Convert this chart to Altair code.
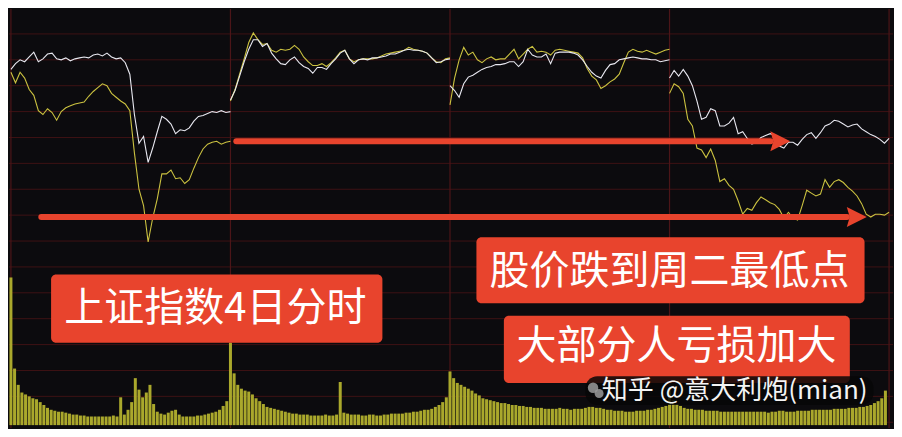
import altair as alt
import pandas as pd

# ---- data (levels: arbitrary index units, 5-minute samples, 4 sessions) ----
white_d1 = [374,380,384,382,387,392,382,385,390,391, 385,384,386,383,385,386,387,386,389,390,
            388,391,387,385,386,381,369,327,297,304, 277,292,309,325,322,317,307,311,310,313,
            320,325,326,328,330,329,331,329,330]
yellow_d1 = [371,360,371,365,353,347,331,327,333,329, 321,330,334,336,338,339,340,346,351,355,
             359,357,349,345,341,338,331,287,249,232, 194,219,239,265,265,269,260,261,255,259,
             271,282,291,296,298,299,296,298,299]
white_d2 = [342,352,367,382,395,405,405,398,401,391, 385,380,379,384,387,381,377,375,370,376,
            376,374,380,385,391,394,385,380,384,385, 384,386,386,387,388,390,390,392,394,395,
            394,394,393,391,386,381,382,384,385]
yellow_d2 = [341,353,369,385,402,412,405,400,401,394, 392,395,394,395,399,395,387,382,378,378,
             380,377,381,386,392,394,385,382,384,385, 385,385,386,388,390,391,392,393,394,397,
             395,394,393,391,386,382,381,385,386]
white_d3 = [357,352,345,359,366,368,371,374,376,377, 379,379,380,382,382,377,382,395,389,387,
            387,390,380,391,392,392,392,391,389,384, 377,371,367,365,373,379,380,384,385,386,
            387,386,385,385,384,384,382,383,384]
yellow_d3 = [337,365,384,397,389,392,384,381,385,387, 384,385,385,390,395,385,390,395,398,392,
             393,392,389,394,395,394,393,392,391,386, 375,367,363,354,357,361,364,369,381,392,
             395,393,392,394,392,390,392,394,395]
white_d4 = [365,373,367,374,367,357,341,322,324,333, 331,315,315,318,324,307,309,302,296,298,
            303,305,307,305,294,292,298,298,295,301, 306,308,302,308,315,317,321,320,317,314,
            316,317,312,309,306,304,301,297,302]
yellow_d4 = [349,359,356,349,322,315,292,290,282,291, 279,257,260,253,249,237,223,229,227,235,
             241,238,235,233,228,219,225,219,217,232, 248,245,242,244,259,251,257,259,256,251,
             247,242,234,223,220,223,223,222,225]

# volume, 4-minute samples
vol_d1 = [154,59,42,34,32,30,28,27,24,21, 18,16,15,14,14,13,12,11,11,10,
          10,9,9,9,9,9,9,9,10,9, 29,11,16,24,49,37,29,34,42,22,
          14,12,11,13,15,16,11,9,9,9, 9,10,10,11,12,13,14,16,20,25]
vol_d2 = [86,54,42,38,36,35,32,28,25,22, 19,18,17,16,15,14,13,12,12,11,
          11,11,10,10,10,10,11,10,10,11, 45,13,12,11,11,11,10,10,11,11,
          10,10,11,11,12,12,12,12,13,13, 14,14,15,16,16,17,19,21,24,29]
vol_d3 = [56,49,44,42,40,38,36,33,31,28, 27,26,25,24,23,23,22,21,21,20,
          20,19,19,18,18,18,17,17,17,17, 18,17,17,16,17,17,17,18,19,19,
          18,18,17,16,16,15,15,15,14,14, 14,15,15,15,16,16,17,18,19,20]
vol_d4 = [39,26,22,20,18,17,17,16,16,16, 15,15,15,15,14,14,14,14,14,14,
          14,14,14,14,14,14,14,13,14,14, 15,15,14,14,14,15,15,15,15,16,
          16,16,16,16,16,17,17,17,17,18, 18,18,19,19,20,21,23,25,28,36]

grid_levels = [6, 33, 60, 87, 114, 141, 168, 195, 222, 249, 276, 303, 330, 357, 384, 411]
day_bounds = [0, 240, 480, 720, 960]

labels = ["上证指数4日分时", "股价跌到周二最低点", "大部分人亏损加大"]
watermark = "知乎 @意大利炮(mian)"

# ---- tables ----
whites = [white_d1, white_d2, white_d3, white_d4]
yellows = [yellow_d1, yellow_d2, yellow_d3, yellow_d4]
vols = [vol_d1, vol_d2, vol_d3, vol_d4]

wrows, yrows, vrows = [], [], []
for d in range(4):
    for k, v in enumerate(whites[d]):
        wrows.append({"minute": 240 * d + 5 * k, "level": v, "day": d})
    for k, v in enumerate(yellows[d]):
        yrows.append({"minute": 240 * d + 5 * k, "level": v, "day": d})
    for j, v in enumerate(vols[d]):
        vrows.append({"minute": 240 * d + 4 * j, "vol": v})
wdf, ydf, vdf = pd.DataFrame(wrows), pd.DataFrame(yrows), pd.DataFrame(vrows)
gdf = pd.DataFrame({"level": grid_levels})
bdf = pd.DataFrame({"minute": day_bounds})

boxes = pd.DataFrame({
    "x1": [43.9, 508.9, 538.9], "x2": [406.1, 933.2, 917.1],
    "y1": [89, 130, 47], "y2": [160, 199, 117],
    "tx": [223.4, 720.0, 727.5], "ty": [124, 163, 85],
    "label": labels,
})
arrows = pd.DataFrame({
    "x1": [246.4, 33.2], "x2": [830.4, 914.0], "hx": [841.1, 924.7], "y": [299, 220],
})
wm = pd.DataFrame({"x": [646.0], "y": [39], "t": [watermark]})
wm_bg = pd.DataFrame({"x1": [628.0], "x2": [943.0], "y1": [24], "y2": [54]})
icon = pd.DataFrame({"x": [636.4, 643.0], "y": [42, 36], "s": [110, 80]})

# ---- scales ----
xs = alt.Scale(domain=[-2.1, 964.3], nice=False, zero=False)
ys = alt.Scale(domain=[0, 437], nice=False, zero=False)
vs = alt.Scale(domain=[-3, 434], nice=False, zero=False)

RED = "#e8442d"
FONT = "Noto Sans CJK SC"

hgrid = alt.Chart(gdf).mark_rule(color="#3e1214", strokeWidth=1).encode(
    y=alt.Y("level:Q", scale=ys, axis=None))
vgrid = alt.Chart(bdf).mark_rule(color="#4c1518", strokeWidth=1.2).encode(
    x=alt.X("minute:Q", scale=xs, axis=None))

vol = alt.Chart(vdf).mark_rule(color="#aaa82c", strokeWidth=3.0).encode(
    x=alt.X("minute:Q", scale=xs, axis=None),
    y=alt.Y("vol:Q", scale=vs, axis=None),
    y2=alt.datum(0))

wline = alt.Chart(wdf).mark_line(color="#e8e8f0", strokeWidth=1.1).encode(
    x=alt.X("minute:Q", scale=xs, axis=None),
    y=alt.Y("level:Q", scale=ys, axis=None),
    detail="day:N")
yline = alt.Chart(ydf).mark_line(color="#cbc240", strokeWidth=1.1).encode(
    x=alt.X("minute:Q", scale=xs, axis=None),
    y=alt.Y("level:Q", scale=ys, axis=None),
    detail="day:N")

ashaft = alt.Chart(arrows).mark_rule(color=RED, strokeWidth=6, strokeCap="round").encode(
    x=alt.X("x1:Q", scale=xs, axis=None), x2="x2:Q",
    y=alt.Y("y:Q", scale=ys, axis=None))
ahead = alt.Chart(arrows).mark_point(
    shape="M-1,-1L1,0L-1,1L-0.7,0Z", filled=True, color=RED, opacity=1, size=400, strokeWidth=0
).encode(x=alt.X("hx:Q", scale=xs, axis=None), y=alt.Y("y:Q", scale=ys, axis=None))

brect = alt.Chart(boxes).mark_rect(color=RED, cornerRadius=5).encode(
    x=alt.X("x1:Q", scale=xs, axis=None), x2="x2:Q",
    y=alt.Y("y1:Q", scale=ys, axis=None), y2="y2:Q")
btext = alt.Chart(boxes).mark_text(
    font=FONT, fontSize=40, color="white", align="center", baseline="middle"
).encode(x=alt.X("tx:Q", scale=xs, axis=None), y=alt.Y("ty:Q", scale=ys, axis=None), text="label:N")

wshadow = alt.Chart(wm_bg).mark_rect(color="#070707", opacity=0.85, cornerRadius=12).encode(
    x=alt.X("x1:Q", scale=xs, axis=None), x2="x2:Q",
    y=alt.Y("y1:Q", scale=ys, axis=None), y2="y2:Q")
wicon = alt.Chart(icon).mark_point(shape="circle", filled=True, color="#9a9a9a", opacity=0.85).encode(
    x=alt.X("x:Q", scale=xs, axis=None), y=alt.Y("y:Q", scale=ys, axis=None),
    size=alt.Size("s:Q", scale=None, legend=None))
wtext = alt.Chart(wm).mark_text(
    font=FONT, fontSize=26, align="left", baseline="middle", color="#f4f4f4"
).encode(x=alt.X("x:Q", scale=xs, axis=None), y=alt.Y("y:Q", scale=ys, axis=None), text="t:N")

chart = alt.layer(
    hgrid, vgrid, vol, yline, wline, ashaft, ahead, brect, btext, wshadow, wicon, wtext
).resolve_scale(y="independent").properties(
    width=886, height=421,
    autosize=alt.AutoSizeParams(type="fit", contains="padding"),
    padding=0, background="#0c0b0e",
).configure_view(stroke=None)

chart.save("out.html", embed_options={"renderer": "svg", "actions": False})
